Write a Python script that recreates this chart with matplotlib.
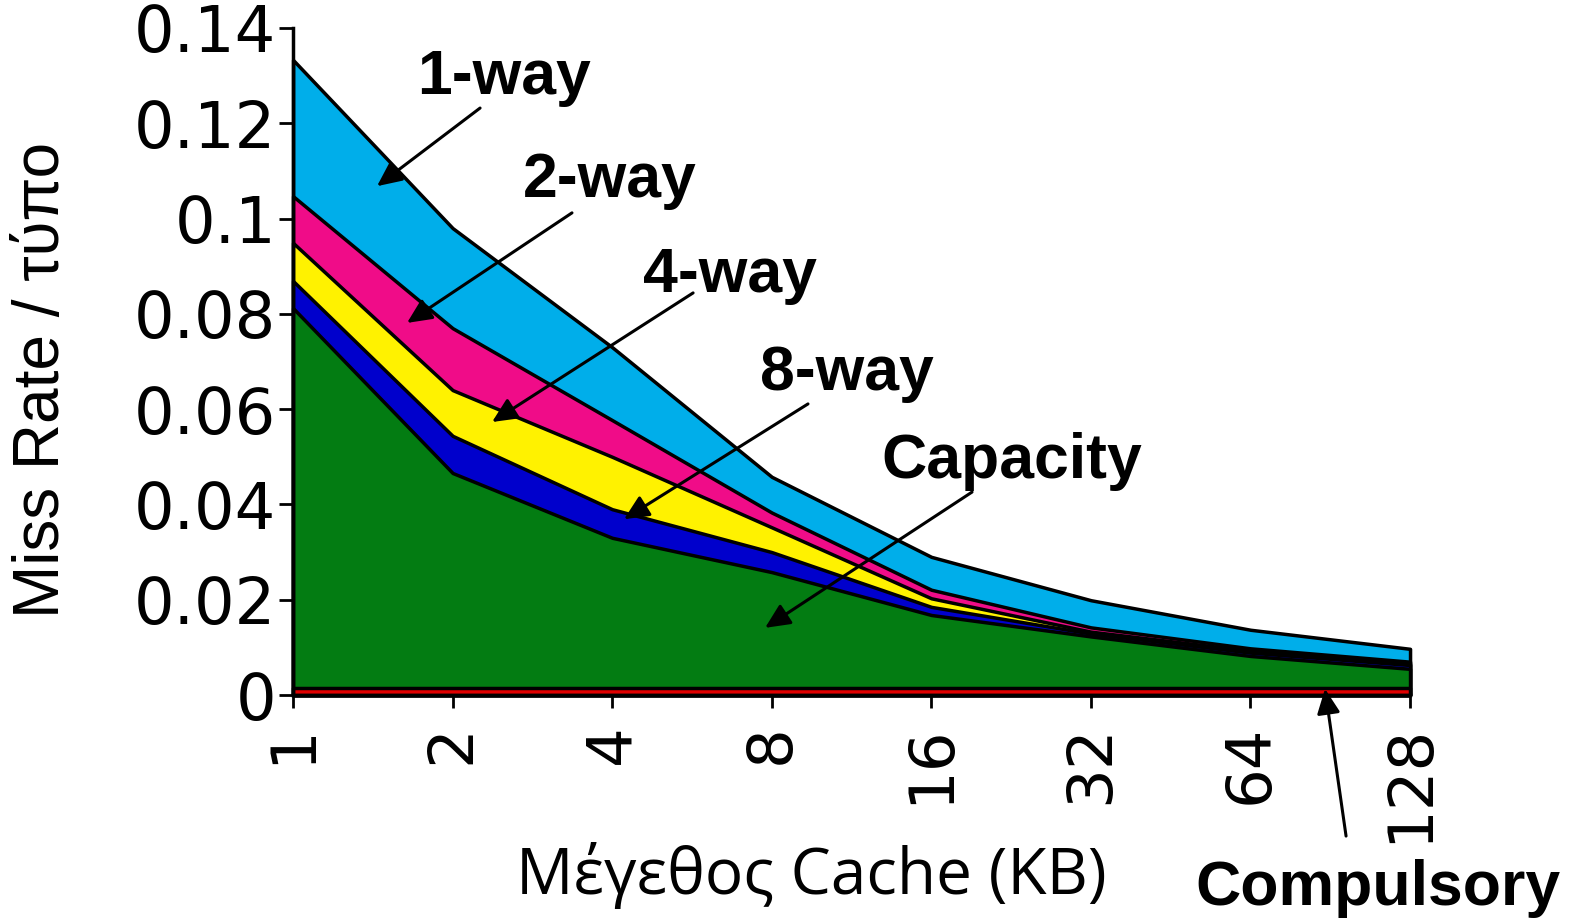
import matplotlib
matplotlib.use("Agg")
import matplotlib.pyplot as plt

# ----------------------------
#   Данные (miss rate по размеру кэша)
# ----------------------------
cache_kb = ["1", "2", "4", "8", "16", "32", "64", "128"]

one_way = [0.1333, 0.0980, 0.0730, 0.0458, 0.0290, 0.0199, 0.0137, 0.0097]
two_way = [0.1047, 0.0770, 0.0577, 0.0383, 0.0221, 0.0142, 0.0098, 0.0070]
four_way = [0.0949, 0.0640, 0.0500, 0.0352, 0.0203, 0.0133, 0.0093, 0.0066]
eight_way = [0.0869, 0.0544, 0.0390, 0.0300, 0.0185, 0.0129, 0.0089, 0.0063]
capacity = [0.0812, 0.0466, 0.0330, 0.0258, 0.0168, 0.0123, 0.0082, 0.0055]
compulsory = [0.0015, 0.0015, 0.0015, 0.0015, 0.0015, 0.0015, 0.0015, 0.0015]

y_ticks = [0, 0.02, 0.04, 0.06, 0.08, 0.1, 0.12, 0.14]
y_ticklabels = ["0", "0.02", "0.04", "0.06", "0.08", "0.1", "0.12", "0.14"]

# label, arrow tip (x, y), arrow start (x, y), text pos (x, y)
notes = [
    ("1-way", (0.526, 0.1068), (1.172, 0.1232), (1.325, 0.1262)),
    ("2-way", (0.714, 0.0781), (1.748, 0.1012), (1.987, 0.1045)),
    ("4-way", (1.247, 0.0573), (2.507, 0.0844), (2.739, 0.0846)),
    ("8-way", (2.074, 0.0369), (3.227, 0.0611), (3.472, 0.0640)),
    ("Capacity", (2.958, 0.0141), (4.255, 0.0426), (4.506, 0.0455)),
    ("Compulsory", (6.467, 0.0013), (6.599, -0.0296), (6.800, -0.0441)),
]

layers = [
    (one_way, "#00AEEA"),
    (two_way, "#F00C88"),
    (four_way, "#FFF200"),
    (eight_way, "#0000CC"),
    (capacity, "#037C12"),
    (compulsory, "#E00000"),
]

# ----------------------------
#   Рисование
# ----------------------------
fig = plt.figure(figsize=(15.79, 9.24), dpi=100)
ax = fig.add_axes([0.1856, 0.2478, 0.7074, 0.7219])

x = list(range(len(cache_kb)))
for vals, col in layers:
    ax.fill_between(x, 0, vals, facecolor=col, edgecolor="black",
                    linewidth=2.5, clip_on=False)

ax.set_xlim(0, 7)
ax.set_ylim(0, 0.14)

for s in ("top", "right"):
    ax.spines[s].set_visible(False)
for s in ("left", "bottom"):
    ax.spines[s].set_linewidth(2.5)

ax.set_yticks(y_ticks)
ax.set_yticklabels(y_ticklabels, fontsize=46, family="DejaVu Sans")
ax.set_xticks(x)
ax.set_xticklabels(cache_kb, fontsize=45, family="DejaVu Sans",
                   rotation=90, va="top", ha="center")
ax.tick_params(axis="y", direction="out", length=10, width=2, pad=2)
ax.tick_params(axis="x", direction="out", length=9, width=2, pad=12)

ax.set_ylabel("Miss Rate / τύπο", fontsize=46, family="Liberation Sans")
ax.yaxis.set_label_coords(-0.198, 0.472)
ax.set_xlabel("Μέγεθος Cache (KB)", fontsize=46, family="Open Sans")
ax.xaxis.set_label_coords(0.464, -0.22)

for label, tip, start, tpos in notes:
    ax.annotate("", xy=tip, xytext=start, xycoords="data",
                annotation_clip=False,
                arrowprops=dict(arrowstyle="-|>,head_length=1.5,head_width=0.7",
                                color="black", lw=2.2, shrinkA=0, shrinkB=0))
    ax.text(tpos[0], tpos[1], label, fontsize=45, fontweight="bold",
            family="Liberation Sans", ha="center", va="baseline",
            clip_on=False)

fig.savefig("out.png", dpi=100)
